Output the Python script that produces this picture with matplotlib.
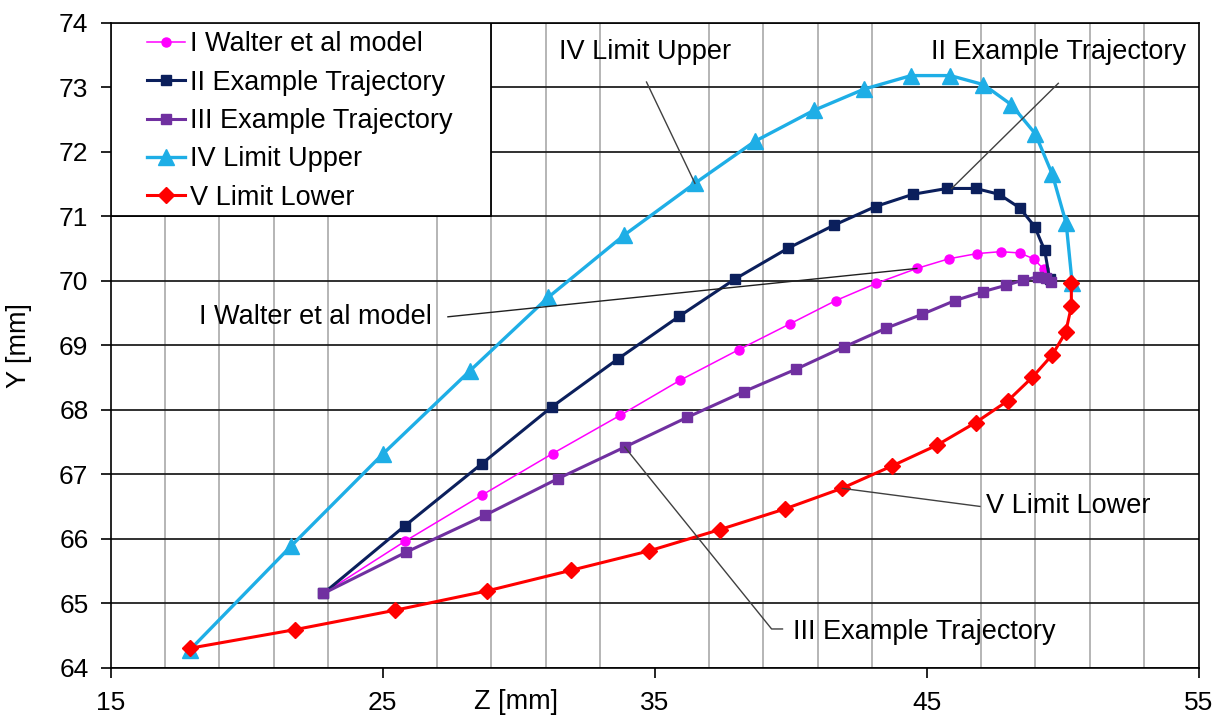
import matplotlib
matplotlib.use("Agg")
import matplotlib.pyplot as plt
from matplotlib.patches import Rectangle
import numpy as np

plt.rcParams['font.family'] = ['Liberation Sans', 'DejaVu Sans']

# data (Z, Y in mm)
z_walter = [22.82, 25.82, 28.67, 31.25, 33.72, 35.95, 38.09, 39.97, 41.65, 43.15,
            44.64, 45.82, 46.85, 47.72, 48.42, 48.93, 49.30, 49.54]
y_walter = [65.15, 65.96, 66.68, 67.32, 67.91, 68.46, 68.93, 69.33, 69.69, 69.96,
            70.19, 70.34, 70.42, 70.45, 70.43, 70.34, 70.18, 69.98]

z_traj2 = [22.82, 25.82, 28.64, 31.21, 33.66, 35.91, 37.97, 39.89, 41.59, 43.12,
           44.50, 45.75, 46.80, 47.66, 48.42, 48.97, 49.34, 49.52]
y_traj2 = [65.15, 66.20, 67.16, 68.04, 68.79, 69.45, 70.03, 70.50, 70.86, 71.15,
           71.34, 71.43, 71.43, 71.34, 71.13, 70.84, 70.47, 70.03]

z_traj3 = [22.82, 25.86, 28.75, 31.44, 33.90, 36.19, 38.28, 40.21, 41.95, 43.49,
           44.84, 46.03, 47.07, 47.93, 48.56, 49.09, 49.40, 49.58]
y_traj3 = [65.15, 65.79, 66.36, 66.93, 67.42, 67.88, 68.28, 68.63, 68.97, 69.26,
           69.48, 69.69, 69.83, 69.93, 70.01, 70.06, 70.04, 69.98]

z_upper = [17.90, 21.62, 25.00, 28.20, 31.08, 33.89, 36.48, 38.68, 40.85, 42.70,
           44.43, 45.87, 47.09, 48.11, 48.99, 49.62, 50.13, 50.35]
y_upper = [64.27, 65.88, 67.31, 68.60, 69.74, 70.71, 71.51, 72.16, 72.64, 72.97,
           73.18, 73.18, 73.04, 72.73, 72.28, 71.65, 70.89, 69.96]

z_lower = [17.90, 21.78, 25.45, 28.84, 31.93, 34.79, 37.39, 39.78, 41.88, 43.74,
           45.38, 46.80, 47.99, 48.88, 49.62, 50.11, 50.32, 50.32]
y_lower = [64.30, 64.59, 64.89, 65.19, 65.51, 65.81, 66.14, 66.46, 66.78, 67.13,
           67.45, 67.80, 68.14, 68.50, 68.85, 69.20, 69.60, 69.96]

labels = ["I Walter et al model", "II Example Trajectory", "III Example Trajectory",
          "IV Limit Upper", "V Limit Lower"]

fig = plt.figure(figsize=(12.2, 7.16), dpi=100)
ax = fig.add_axes([0.0907, 0.0675, 0.8918, 0.9008])

ax.set_xlim(15, 55)
ax.set_ylim(64, 74)
ax.set_xticks(np.arange(15, 56, 10))
ax.set_xticks(np.arange(15, 56, 2), minor=True)
ax.set_yticks(np.arange(64, 75, 1))

# grid: grey verticals every 2, dark horizontals every 1
ax.grid(which='minor', axis='x', color='#b0b0b0', lw=1.3, zorder=0)
ax.grid(which='major', axis='y', color='#202020', lw=1.3, zorder=0)
ax.tick_params(axis='x', which='minor', length=0)
ax.tick_params(axis='both', which='major', direction='out', length=7, width=1.2,
               labelsize=19, color='black')
ax.tick_params(axis='y', pad=9)
ax.tick_params(axis='x', pad=10)
for s in ax.spines.values():
    s.set_color('black')
    s.set_linewidth(1.2)

ax.plot(z_walter, y_walter, color='#ff00ff', lw=1.1, marker='o', ms=6.5, zorder=4, label=labels[0])
ax.plot(z_traj2, y_traj2, color='#0b1f5c', lw=2.2, marker='s', ms=7, zorder=4, label=labels[1])
ax.plot(z_traj3, y_traj3, color='#7030a0', lw=2.2, marker='s', ms=7, zorder=4, label=labels[2])
ax.plot(z_upper, y_upper, color='#1eaee6', lw=2.4, marker='^', ms=11.5, zorder=4, label=labels[3])
ax.plot(z_lower, y_lower, color='#ff0000', lw=2.2, marker='D', ms=8.5, zorder=4, label=labels[4])

# legend box sits on the grid in the upper-left corner
ax.add_patch(Rectangle((15, 71), 14, 3, facecolor='white', edgecolor='black', lw=1.3, zorder=3))
ax.legend(loc='upper left', bbox_to_anchor=(0.0334, 0.987), frameon=False, fontsize=19.5,
          borderpad=0, labelspacing=0.46, handlelength=1.4, handletextpad=0.18, borderaxespad=0)

# callout labels
lc = '#404040'
fs = 19.5
ax.text(34.64, 73.55, "IV Limit Upper", fontsize=fs, ha='center', va='center', zorder=6)
ax.plot([34.7, 36.48], [73.08, 71.51], color=lc, lw=1, zorder=5)

ax.text(49.84, 73.55, "II Example Trajectory", fontsize=fs, ha='center', va='center', zorder=6)
ax.plot([49.84, 45.92], [73.06, 71.43], color=lc, lw=1, zorder=5)

ax.text(26.8, 69.44, "I Walter et al model", fontsize=fs, ha='right', va='center', zorder=6)
ax.plot([27.4, 44.64], [69.44, 70.19], color='#202020', lw=1, zorder=5)

ax.text(40.1, 64.56, "III Example Trajectory", fontsize=fs, ha='left', va='center', zorder=6)
ax.plot([33.9, 39.3, 39.7], [67.42, 64.6, 64.6], color=lc, lw=1, zorder=5)

ax.text(47.2, 66.5, "V Limit Lower", fontsize=fs, ha='left', va='center', zorder=6)
ax.plot([41.9, 46.96], [66.78, 66.5], color=lc, lw=1, zorder=5)

ax.set_ylabel("Y [mm]", fontsize=19.5)
ax.yaxis.set_label_coords(-0.072, 0.5)
ax.text(0.3725, -0.033, "Z [mm]", transform=ax.transAxes, fontsize=19.5, ha='center', va='top')

fig.savefig("out.png", dpi=100)
